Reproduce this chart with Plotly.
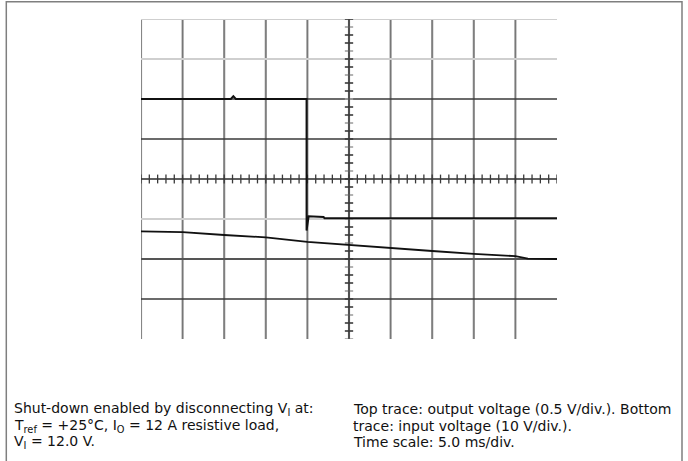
import plotly.graph_objects as go

# ---- data (time in ms, 5 ms/div; amplitude in screen divisions) ----
t_out = [-25.0, -14.2, -13.9, -13.6, -5.1, -5.1, -4.85, -3.05, -2.95, 25.0]
v_out = [2.00, 2.00, 2.07, 2.00, 2.00, -1.29, -0.93, -0.95, -0.98, -0.98]

t_in = [-25.0, -20.0, -15.0, -10.0, -5.0, 0.0, 5.0, 10.0, 15.0, 20.0, 21.5, 25.0]
v_in = [-1.31, -1.33, -1.40, -1.46, -1.57, -1.65, -1.72, -1.80, -1.87, -1.93, -1.99, -2.00]

caption_left = ["Shut-down enabled by disconnecting V<sub>I</sub> at:",
                "T<sub>ref</sub> = +25°C, I<sub>O</sub> = 12 A resistive load,",
                "V<sub>I</sub> = 12.0 V."]
caption_right = ["Top trace: output voltage (0.5 V/div.). Bottom",
                 "trace: input voltage (10 V/div.).",
                 "Time scale: 5.0 ms/div."]

# ---- layout geometry ----
W, H = 688, 461
L, R, T, B = 141, 131, 19, 122
PW, PH = W - L - R, H - T - B


def px(x):
    return (x - L) / PW


def py(y):
    return (H - B - y) / PH


shapes = []
# vertical grid lines
for i in range(10):
    xv = -25 + 5 * i
    shapes.append(dict(type="line", xref="x", yref="y", x0=xv, x1=xv, y0=-4, y1=4,
                       line=dict(color="#9a9a9a", width=2.2), layer="below"))
    shapes.append(dict(type="line", xref="x", yref="y", x0=xv, x1=xv, y0=-4, y1=4,
                       line=dict(color="#6a6a6a", width=0.8), layer="below"))
# horizontal grid lines
h_lines = [(4, "#cfcfcf", 2.2), (3, "#cfcfcf", 2.2), (2, "#3a3a3a", 1.6),
           (1, "#3a3a3a", 1.6), (0, "#2a2a2a", 1.6), (-1, "#cfcfcf", 2.2),
           (-2, "#555555", 1.8), (-3, "#3a3a3a", 1.6)]
for yv, c, w in h_lines:
    shapes.append(dict(type="line", xref="x", yref="y", x0=-25, x1=25, y0=yv, y1=yv,
                       line=dict(color=c, width=w), layer="below"))
# minor ticks on centre horizontal axis
for k in range(-25, 26):
    shapes.append(dict(type="line", xref="x", yref="y", x0=k, x1=k, y0=-0.11, y1=0.11,
                       line=dict(color="#3a3a3a", width=1.3), layer="below"))
# minor ticks on centre vertical axis
for k in range(-20, 21):
    yv = k * 0.2
    c = "#3a3a3a" if k % 3 != 1 else "#a0a0a0"
    shapes.append(dict(type="line", xref="x", yref="y", x0=-0.5, x1=0.5, y0=yv, y1=yv,
                       line=dict(color=c, width=1.6), layer="below"))
shapes.append(dict(type="line", xref="x", yref="y", x0=0, x1=0, y0=-4, y1=4,
                   line=dict(color="#3a3a3a", width=1.4), layer="below"))
# outer frame (open at the bottom)
shapes.append(dict(type="path", xref="paper", yref="paper",
                   path=f"M {px(6.3)},{py(461)} L {px(6.3)},{py(1.7)} L {px(682)},{py(1.7)} L {px(682)},{py(461)}",
                   line=dict(color="#7f7f7f", width=1.5)))

fig = go.Figure()
fig.add_trace(go.Scatter(x=t_in, y=v_in, mode="lines",
                         line=dict(color="#111111", width=1.8), hoverinfo="skip"))
fig.add_trace(go.Scatter(x=t_out, y=v_out, mode="lines",
                         line=dict(color="#111111", width=2.0), hoverinfo="skip"))

font = dict(family="DejaVu Sans, sans-serif", size=14, color="#111111")
line_y = [409, 425.5, 442]
annotations = []
for txt, yy in zip(caption_left, line_y):
    annotations.append(dict(text=txt, xref="paper", yref="paper", x=px(12), y=py(yy),
                            xanchor="left", yanchor="middle", align="left",
                            showarrow=False, font=font))
for txt, yy in zip(caption_right, line_y):
    annotations.append(dict(text=txt, xref="paper", yref="paper", x=px(351), y=py(yy),
                            xanchor="left", yanchor="middle", align="left",
                            showarrow=False, font=font))

fig.update_layout(
    width=W, height=H,
    margin=dict(l=L, r=R, t=T, b=B, pad=0),
    paper_bgcolor="white", plot_bgcolor="white",
    showlegend=False,
    hovermode=False,
    xaxis=dict(range=[-25, 25], showgrid=False, zeroline=False, showticklabels=False,
               ticks="", showline=False, fixedrange=True),
    yaxis=dict(range=[-4, 4], showgrid=False, zeroline=False, showticklabels=False,
               ticks="", showline=False, fixedrange=True),
    shapes=shapes,
    annotations=annotations,
)

fig.write_html("out.html", config={"displayModeBar": False, "staticPlot": True},
               post_script="document.body.style.margin='0px';")
